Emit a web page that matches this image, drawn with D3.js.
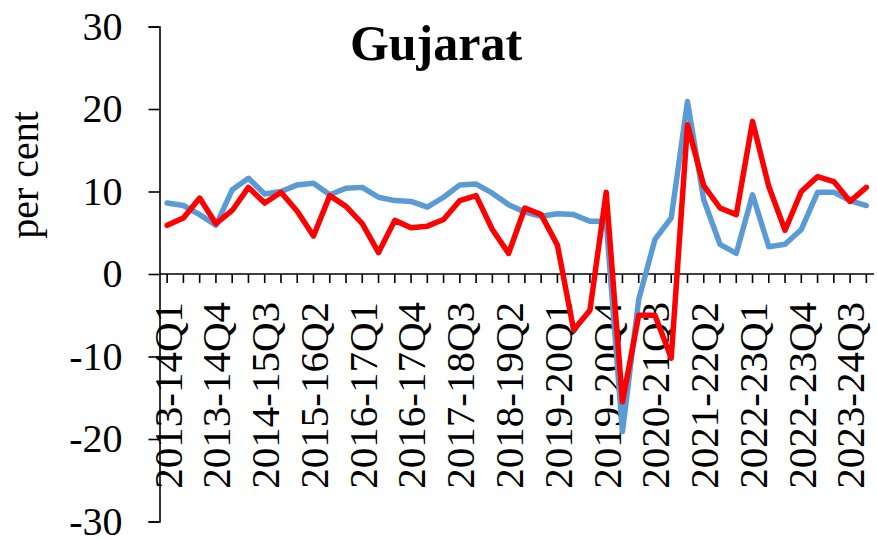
<!DOCTYPE html>
<html>
<head>
<meta charset="utf-8">
<script src="https://cdn.jsdelivr.net/npm/d3@7"></script>
<style>
  body { margin: 0; background: #fff; }
  svg { display: block; }
  svg text { font-family: "Liberation Serif", "Times New Roman", Times, "DejaVu Serif", serif; }
</style>
</head>
<body>
<div id="chart"></div>
<script>
const title = "Gujarat";
const yLabel = "per cent";

const fiscalYears = ["2013-14", "2014-15", "2015-16", "2016-17", "2017-18", "2018-19",
  "2019-20", "2020-21", "2021-22", "2022-23", "2023-24"];
const quarters = fiscalYears.flatMap(y => ["Q1", "Q2", "Q3", "Q4"].map(q => y + q));

// every third quarter is labelled
const tickLabels = ["2013-14Q1", "2013-14Q4", "2014-15Q3", "2015-16Q2", "2016-17Q1",
  "2016-17Q4", "2017-18Q3", "2018-19Q2", "2019-20Q1", "2019-20Q4", "2020-21Q3",
  "2021-22Q2", "2022-23Q1", "2022-23Q4", "2023-24Q3"];

const yTicks = [-30, -20, -10, 0, 10, 20, 30];

// blue series
const seriesBlue = [8.6, 8.3, 7.2, 5.9, 10.2, 11.6, 9.7, 10.0, 10.8, 11.0, 9.6, 10.4,
  10.5, 9.3, 8.9, 8.8, 8.1, 9.3, 10.8, 10.9, 9.8, 8.4, 7.5, 7.0, 7.3, 7.2, 6.4, 6.4,
  -19.1, -3.1, 4.2, 6.8, 20.9, 9.0, 3.6, 2.5, 9.6, 3.3, 3.6, 5.4, 9.9, 9.9, 8.9, 8.3];

// red series
const seriesRed = [5.9, 6.8, 9.2, 6.1, 7.7, 10.5, 8.6, 9.9, 7.6, 4.6, 9.5, 8.2,
  6.1, 2.6, 6.5, 5.6, 5.8, 6.6, 8.9, 9.5, 5.4, 2.5, 8.0, 7.2, 3.5, -6.8, -4.4, 9.9,
  -15.5, -5.0, -5.0, -10.2, 18.1, 10.7, 8.0, 7.2, 18.5, 10.6, 5.3, 10.0, 11.8, 11.2, 8.8, 10.5];

const width = 877, height = 540;

const svg = d3.select("#chart")
  .append("svg")
  .attr("width", width)
  .attr("height", height);

const xScale = d3.scalePoint()
  .domain(quarters)
  .range([159.5, 874])
  .padding(0.47);

const yScale = d3.scaleLinear()
  .domain([-30, 30])
  .range([521.5, 26.5]);

// y axis
const yAxis = svg.append("g")
  .attr("transform", "translate(159.5,0)")
  .call(d3.axisLeft(yScale).tickValues(yTicks).tickSize(11).tickPadding(26)
    .tickFormat(d3.format("d")));
yAxis.attr("font-family", null).attr("font-size", null);
yAxis.select(".domain").attr("stroke", "#000").attr("stroke-width", 1.6);
yAxis.selectAll(".tick line").attr("stroke", "#000").attr("stroke-width", 1.6);
yAxis.selectAll(".tick text")
  .style("font-size", "40px")
  .attr("fill", "#000")
  .text(d => d < 0 ? "-" + Math.abs(d) : d);

// x axis at zero
const y0 = yScale(0);
const xAxis = svg.append("g")
  .attr("transform", `translate(0,${y0})`);
xAxis.append("line")
  .attr("x1", 159.5)
  .attr("x2", 874)
  .attr("stroke", "#000")
  .attr("stroke-width", 1.6);
xAxis.selectAll(".qtick")
  .data(quarters)
  .enter()
  .append("line")
  .attr("class", "qtick")
  .attr("x1", d => xScale(d))
  .attr("x2", d => xScale(d))
  .attr("y1", 0)
  .attr("y2", 9)
  .attr("stroke", "#000")
  .attr("stroke-width", 1.6);

svg.append("g")
  .selectAll("text")
  .data(tickLabels)
  .enter()
  .append("text")
  .attr("transform", d => `translate(${xScale(d)},${y0 + 28}) rotate(-90)`)
  .attr("text-anchor", "end")
  .attr("dy", "0.35em")
  .style("font-size", "41px")
  .text(d => d);

// lines
const line = d3.line()
  .x((d, i) => xScale(quarters[i]))
  .y(d => yScale(d));

svg.append("path")
  .datum(seriesBlue)
  .attr("d", line)
  .attr("fill", "none")
  .attr("stroke", "#5B9BD5")
  .attr("stroke-width", 5.5)
  .attr("stroke-linejoin", "round")
  .attr("stroke-linecap", "round");

svg.append("path")
  .datum(seriesRed)
  .attr("d", line)
  .attr("fill", "none")
  .attr("stroke", "#FF0000")
  .attr("stroke-width", 5.5)
  .attr("stroke-linejoin", "round")
  .attr("stroke-linecap", "round");

// title
svg.append("text")
  .attr("x", 436)
  .attr("y", 60)
  .attr("text-anchor", "middle")
  .style("font-weight", "bold")
  .style("font-size", "50px")
  .text(title);

// y label
svg.append("text")
  .attr("transform", "translate(38,175) rotate(-90)")
  .attr("text-anchor", "middle")
  .style("font-size", "40px")
  .text(yLabel);
</script>
</body>
</html>
